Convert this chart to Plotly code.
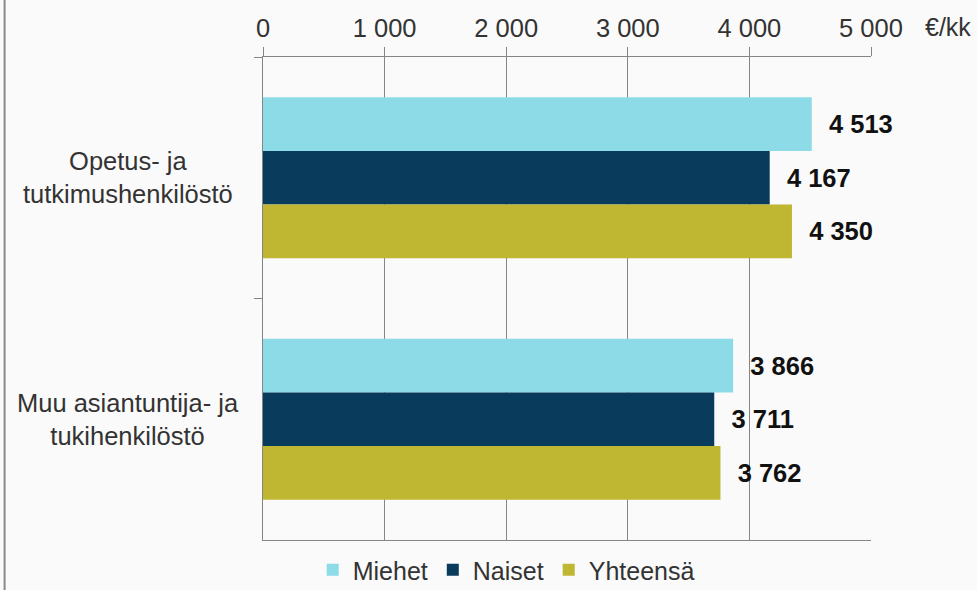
import plotly.graph_objects as go

categories = ["Opetus- ja<br>tutkimushenkilöstö", "Muu asiantuntija- ja<br>tukihenkilöstö"]
series_names = ["Miehet", "Naiset", "Yhteensä"]
miehet = [4513, 3866]
naiset = [4167, 3711]
yhteensa = [4350, 3762]
tick_vals = [0, 1000, 2000, 3000, 4000, 5000]
tick_text = ["0", "1 000", "2 000", "3 000", "4 000", "5 000"]
unit_label = "€/kk"

colors = ["#8ddbe6", "#083b5c", "#bfb631"]
FONT = "Arial, 'Liberation Sans', sans-serif"
GRID = "#858585"


def fmt(v):
    return f"{v:,}".replace(",", " ")


fig = go.Figure()
for name, vals, col in zip(series_names, [miehet, naiset, yhteensa], colors):
    fig.add_trace(go.Bar(
        name=name,
        y=categories,
        x=vals,
        orientation="h",
        marker=dict(color=col, line=dict(width=0)),
        text=["\u00a0\u00a0" + fmt(v) for v in vals],
        textposition="outside",
        textfont=dict(family=FONT, size=25.5, color="#111111", weight="bold"),
        cliponaxis=False,
        constraintext="none",
    ))

fig.update_layout(
    width=977, height=590,
    margin=dict(l=263, r=106, t=57, b=50, autoexpand=False),
    paper_bgcolor="#fafafa",
    plot_bgcolor="#fafafa",
    barmode="group",
    bargap=0.333,
    bargroupgap=0,
    font=dict(family=FONT, size=25.5, color="#333333"),
    showlegend=True,
    legend=dict(
        orientation="h",
        x=0.40, xanchor="center",
        yref="container",
        y=20 / 590, yanchor="middle",
        font=dict(size=25, color="#333333"),
        bgcolor="rgba(0,0,0,0)",
        itemwidth=30,
        tracegroupgap=0,
    ),
    xaxis=dict(
        side="top",
        range=[0, 5000],
        tickvals=tick_vals,
        ticktext=tick_text,
        showgrid=True,
        gridcolor=GRID,
        gridwidth=1,
        showline=True,
        linecolor=GRID,
        linewidth=1,
        mirror=True,
        ticks="outside",
        ticklen=9,
        tickcolor=GRID,
        tickfont=dict(size=25.5, color="#333333"),
        zeroline=False,
    ),
    yaxis=dict(
        autorange="reversed",
        showticklabels=False,
        tickson="boundaries",
        ticks="outside",
        ticklen=8,
        tickcolor=GRID,
        showline=True,
        linecolor=GRID,
        linewidth=1,
        showgrid=False,
        zeroline=False,
    ),
)

for cat in categories:
    fig.add_annotation(
        x=-0.222, xref="paper", y=cat, yref="y",
        text=cat, showarrow=False, xanchor="center", yanchor="middle",
        align="center", font=dict(size=25.5, color="#333333"),
    )

fig.add_annotation(
    x=1.0, xref="paper", y=1.0, yref="paper",
    xshift=77, yshift=30,
    text=unit_label, showarrow=False, xanchor="center", yanchor="middle",
    font=dict(size=25, color="#333333"),
)

fig.add_shape(
    type="line", xref="paper", yref="paper",
    x0=-0.425, x1=-0.425, y0=-0.2, y1=1.3,
    line=dict(color="#888888", width=2),
)

fig.write_html(
    "out.html",
    config={"displayModeBar": False},
    post_script="document.body.style.margin='0';document.body.style.overflow='hidden';",
)
